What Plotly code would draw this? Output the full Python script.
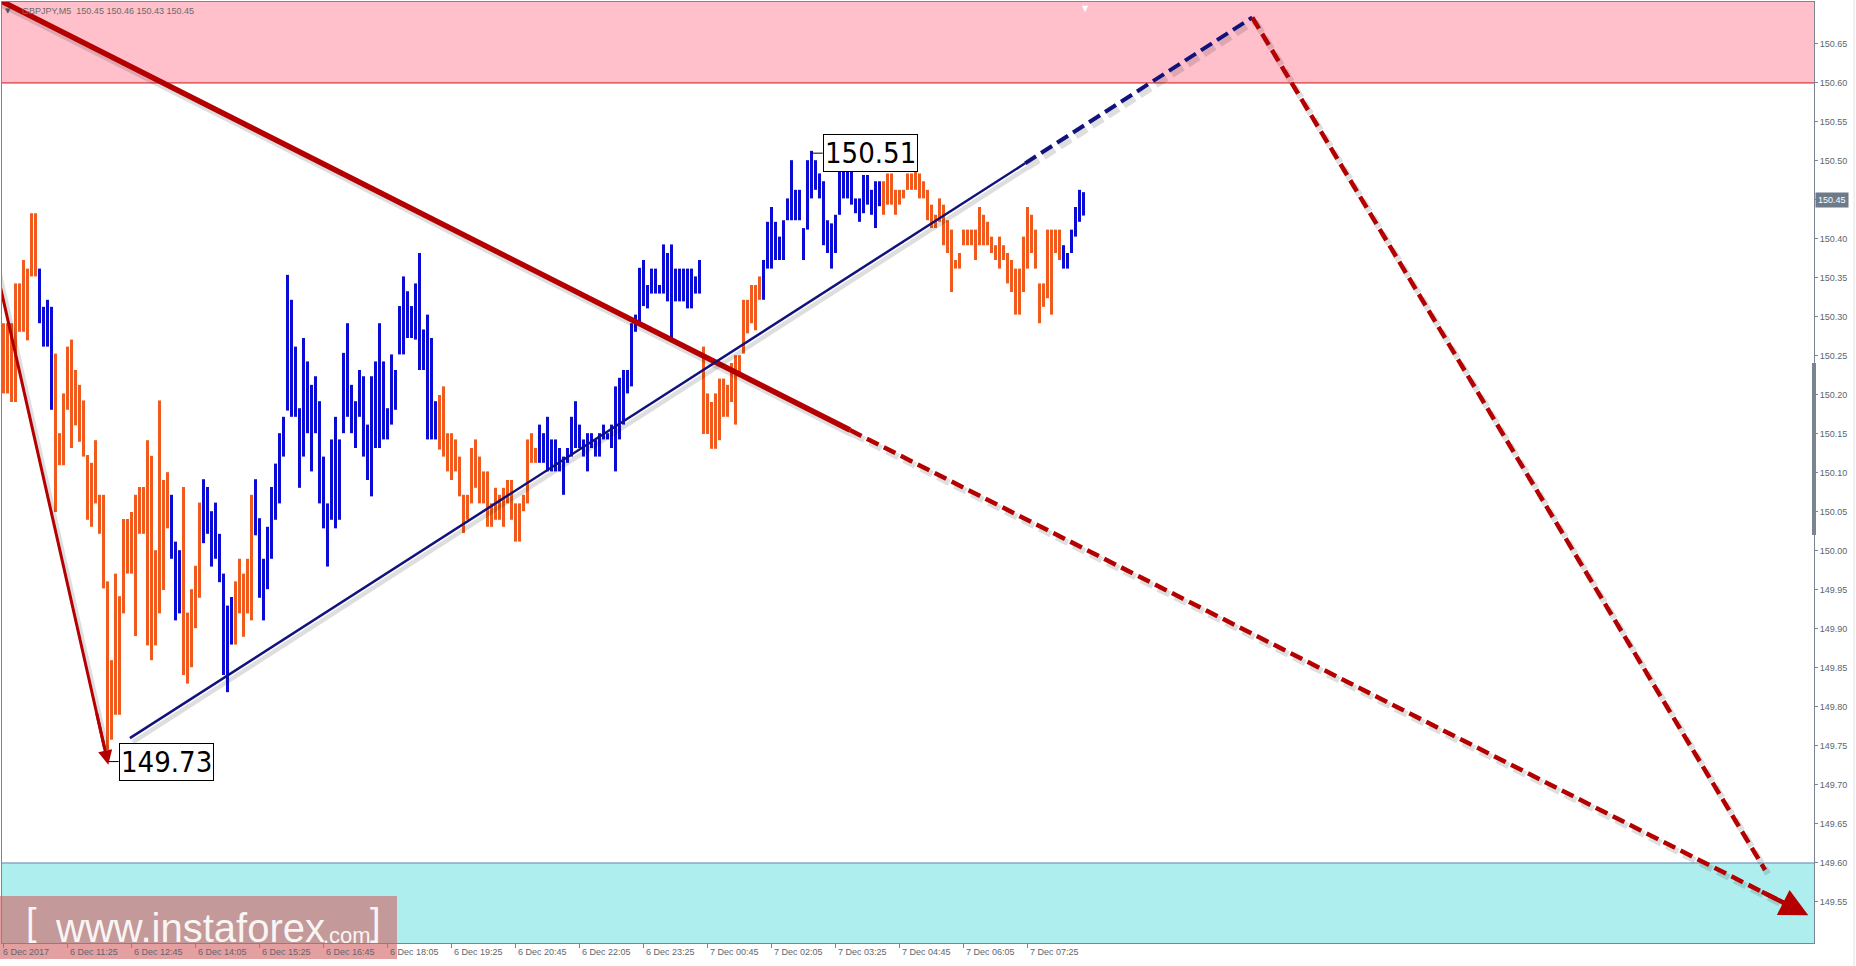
import plotly.graph_objects as go

# ---------------- data ----------------
symbol = "GBPJPY,M5"
last_ohlc = [150.45, 150.46, 150.43, 150.45]

time_labels = ["6 Dec 2017", "6 Dec 11:25", "6 Dec 12:45", "6 Dec 14:05", "6 Dec 15:25",
               "6 Dec 16:45", "6 Dec 18:05", "6 Dec 19:25", "6 Dec 20:45", "6 Dec 22:05",
               "6 Dec 23:25", "7 Dec 00:45", "7 Dec 02:05", "7 Dec 03:25", "7 Dec 04:45",
               "7 Dec 06:05", "7 Dec 07:25"]
bars_per_label = 16

highs = [
    150.292, 150.292, 150.292, 150.343, 150.343, 150.373, 150.362, 150.433, 150.433, 150.362,
    150.313, 150.322, 150.313, 150.253, 150.151, 150.202, 150.262, 150.271, 150.232, 150.213,
    150.193, 150.123, 150.113, 150.142, 150.072, 150.072, 149.961, 149.860, 149.971, 149.942,
    150.041, 150.041, 150.050, 150.072, 150.082, 150.082, 150.142, 150.122, 150.001, 150.193,
    150.091, 150.101, 150.072, 150.012, 150.001, 150.082, 149.921, 149.951, 149.981, 150.062,
    150.092, 150.082, 150.051, 150.062, 150.022, 149.971, 149.930, 149.941, 149.961, 149.990,
    149.971, 149.990, 150.072, 150.092, 150.042, 149.990, 150.031, 150.082, 150.112, 150.151,
    150.172, 150.354, 150.322, 150.262, 150.183, 150.273, 150.243, 150.213, 150.224, 150.192,
    150.121, 150.061, 150.143, 150.172, 150.143, 150.254, 150.292, 150.213, 150.192, 150.232,
    150.224, 150.162, 150.224, 150.243, 150.292, 150.243, 150.183, 150.252, 150.232, 150.314,
    150.352, 150.333, 150.314, 150.343, 150.382, 150.284, 150.303, 150.273, 150.192, 150.200,
    150.211, 150.151, 150.151, 150.143, 150.121, 150.072, 150.072, 150.132, 150.143, 150.121,
    150.102, 150.102, 150.061, 150.081, 150.072, 150.081, 150.091, 150.091, 150.061, 150.061,
    150.072, 150.143, 150.151, 150.132, 150.162, 150.151, 150.172, 150.143, 150.143, 150.132,
    150.121, 150.132, 150.172, 150.192, 150.162, 150.143, 150.151, 150.151, 150.143, 150.151,
    150.162, 150.151, 150.162, 150.211, 150.222, 150.232, 150.232, 150.292, 150.303, 150.363,
    150.373, 150.341, 150.362, 150.362, 150.341, 150.393, 150.382, 150.393, 150.362, 150.362,
    150.362, 150.362, 150.362, 150.352, 150.373, 150.262, 150.202, 150.191, 150.202, 150.221,
    150.221, 150.213, 150.241, 150.251, 150.251, 150.322, 150.322, 150.341, 150.341, 150.352,
    150.373, 150.422, 150.441, 150.422, 150.403, 150.424, 150.452, 150.501, 150.463, 150.463,
    150.414, 150.501, 150.513, 150.501, 150.484, 150.474, 150.424, 150.420, 150.431, 150.493,
    150.493, 150.493, 150.493, 150.452, 150.452, 150.482, 150.482, 150.463, 150.474, 150.474,
    150.474, 150.484, 150.484, 150.463, 150.463, 150.463, 150.484, 150.484, 150.493, 150.484,
    150.474, 150.463, 150.444, 150.431, 150.452, 150.444, 150.424, 150.412, 150.373, 150.382,
    150.412, 150.412, 150.412, 150.412, 150.441, 150.431, 150.422, 150.403, 150.392, 150.403,
    150.392, 150.382, 150.373, 150.362, 150.362, 150.403, 150.441, 150.431, 150.412, 150.343,
    150.343, 150.412, 150.412, 150.412, 150.412, 150.392, 150.382, 150.412, 150.441, 150.463,
    150.460,
]

lows = [
    150.202, 150.202, 150.191, 150.191, 150.281, 150.281, 150.270, 150.352, 150.352, 150.292,
    150.262, 150.262, 150.181, 150.050, 150.110, 150.110, 150.181, 150.132, 150.161, 150.140,
    150.121, 150.040, 150.031, 150.061, 150.022, 149.952, 149.745, 149.758, 149.790, 149.790,
    149.920, 149.971, 149.971, 149.891, 150.022, 150.022, 149.879, 149.860, 149.879, 149.920,
    149.950, 150.029, 149.990, 149.911, 149.920, 149.841, 149.830, 149.851, 149.901, 149.940,
    150.010, 150.022, 149.980, 149.990, 149.960, 149.841, 149.819, 149.880, 149.880, 149.920,
    149.890, 149.920, 149.911, 150.020, 149.940, 149.911, 149.951, 149.990, 150.040, 150.061,
    150.121, 150.180, 150.172, 150.172, 150.081, 150.121, 150.151, 150.102, 150.151, 150.061,
    150.029, 149.980, 150.040, 150.029, 150.040, 150.151, 150.172, 150.151, 150.132, 150.172,
    150.121, 150.091, 150.070, 150.132, 150.132, 150.143, 150.143, 150.162, 150.181, 150.252,
    150.252, 150.273, 150.273, 150.271, 150.232, 150.232, 150.143, 150.143, 150.143, 150.130,
    150.121, 150.102, 150.091, 150.102, 150.070, 150.023, 150.040, 150.061, 150.081, 150.061,
    150.061, 150.031, 150.031, 150.040, 150.040, 150.031, 150.061, 150.040, 150.012, 150.012,
    150.051, 150.061, 150.113, 150.113, 150.113, 150.113, 150.102, 150.102, 150.102, 150.102,
    150.072, 150.113, 150.121, 150.132, 150.132, 150.121, 150.102, 150.132, 150.121, 150.121,
    150.143, 150.143, 150.132, 150.102, 150.143, 150.162, 150.202, 150.211, 150.281, 150.292,
    150.314, 150.311, 150.330, 150.330, 150.330, 150.330, 150.320, 150.270, 150.320, 150.320,
    150.320, 150.311, 150.311, 150.330, 150.330, 150.150, 150.150, 150.131, 150.131, 150.142,
    150.172, 150.172, 150.191, 150.162, 150.223, 150.253, 150.279, 150.292, 150.283, 150.322,
    150.322, 150.362, 150.362, 150.373, 150.373, 150.373, 150.424, 150.424, 150.424, 150.424,
    150.373, 150.412, 150.452, 150.463, 150.452, 150.392, 150.382, 150.362, 150.382, 150.431,
    150.452, 150.452, 150.444, 150.433, 150.422, 150.433, 150.444, 150.431, 150.414, 150.442,
    150.431, 150.444, 150.444, 150.431, 150.444, 150.452, 150.463, 150.463, 150.463, 150.452,
    150.452, 150.424, 150.414, 150.414, 150.422, 150.392, 150.382, 150.332, 150.362, 150.362,
    150.392, 150.392, 150.392, 150.373, 150.392, 150.392, 150.392, 150.382, 150.373, 150.362,
    150.373, 150.343, 150.332, 150.303, 150.303, 150.332, 150.362, 150.382, 150.362, 150.292,
    150.313, 150.324, 150.303, 150.382, 150.373, 150.362, 150.362, 150.382, 150.403, 150.422,
    150.430,
]

# u = rising bar (blue), d = falling bar (orange)
bar_dir = ("ddddddddd" "uuuu"
           "dddddddddd" "dddddddddd" "ddddddddd"
           "uuu" "ddddd" "uuuuuuuu" "ddddd"
           "uuuuuuuuuu" "uuuuuuuuuu" "uuuuuuuuuu" "uuuuuuuuuu" "uuuuuu"
           "dddddddddd" "dddddddddd" "ddddd"
           "uuuuuuuuuu" "uuuuuuuuuu" "uuuuuuuuuu" "uuuuuuuuuu" "u"
           "dddddddddd" "ddddd"
           "uuuuuuuuuu" "uuuuuuuuuu" "uuuuuuuuuu"
           "dddddddddd" "dddddddddd" "dddddddddd" "dddddddddd" "ddddd"
           "uuuuuu")

price_ticks = [149.55, 149.60, 149.65, 149.70, 149.75, 149.80, 149.85, 149.90, 149.95,
               150.00, 150.05, 150.10, 150.15, 150.20, 150.25, 150.30, 150.35, 150.40,
               150.45, 150.50, 150.55, 150.60, 150.65]

resistance_level = 150.60
support_level = 149.60
y_range = [149.4974, 150.7038]
x_range = [-0.375, 452.625]
axis_marker_range = [150.0205, 150.241]

wave_low, wave_low_bar = 149.73, 26
wave_high, wave_high_bar = 150.51, 202
label_offset_bars = 2.8

# analysis lines: (bar index, price)
trend_x = [-6.0, 211.6, 451.2]
trend_y = [150.719, 150.155, 149.533]
drop_x = [-3.4, 26.2]
drop_y = [150.398, 149.726]
rise_x = [31.6, 255.4, 312.2]
rise_y = [149.760, 150.497, 150.684]
target_x = [312.2, 440.4]
target_y = [150.684, 149.591]

# ---------------- styles ----------------
BLUE = "#0b0bd6"
ORANGE = "#f05a1c"
RED = "#b40000"
NAVY = "#12127e"
FRAME = "#7a8591"
TXT = "#5c6670"
SMALL_FONT = "Liberation Sans, Arial, sans-serif"

if len(bar_dir) != len(highs) or len(lows) != len(highs):
    raise ValueError(f"length mismatch {len(bar_dir)} {len(highs)} {len(lows)}")

fig = go.Figure()

# bars
for flag, color in (("u", BLUE), ("d", ORANGE)):
    xs, ys = [], []
    for i, (h, l, d) in enumerate(zip(highs, lows, bar_dir)):
        if d == flag:
            xs += [i, i, None]
            ys += [l, h, None]
    fig.add_trace(go.Scatter(x=xs, y=ys, mode="lines", line=dict(color=color, width=3),
                             hoverinfo="skip", showlegend=False))

SHX, SHY = 0.75, -0.0051


def add_line(xs, ys, color, width, dash="solid", shadow=True, end_frac=1.0):
    xs = list(xs)
    ys = list(ys)
    if end_frac < 1.0:
        xs[-1] = xs[-2] + (xs[-1] - xs[-2]) * end_frac
        ys[-1] = ys[-2] + (ys[-1] - ys[-2]) * end_frac
    if shadow:
        fig.add_trace(go.Scatter(x=[v + SHX for v in xs], y=[v + SHY for v in ys], mode="lines",
                                 line=dict(color="rgba(0,0,0,0.13)", width=width + 2, dash=dash),
                                 hoverinfo="skip", showlegend=False))
    fig.add_trace(go.Scatter(x=xs, y=ys, mode="lines", line=dict(color=color, width=width, dash=dash),
                             hoverinfo="skip", showlegend=False))


DASH = "13px,6px"
add_line(trend_x[:2], trend_y[:2], RED, 5.5)
add_line(trend_x[1:], trend_y[1:], RED, 4.5, DASH, end_frac=0.975)
add_line(drop_x, drop_y, RED, 3, end_frac=0.97)
add_line(rise_x[:2], rise_y[:2], NAVY, 2.5)
add_line(rise_x[1:], rise_y[1:], NAVY, 4, DASH)
add_line(target_x, target_y, RED, 4.5, DASH)


def arrow_head(xa, ya, xb, yb, width, size, color, tail_frac):
    # head with its tip at (xb, yb), pointing away from (xa, ya)
    fig.add_annotation(x=xb, y=yb, ax=xa + (xb - xa) * tail_frac, ay=ya + (yb - ya) * tail_frac,
                       xref="x", yref="y", axref="x", ayref="y", text="", showarrow=True,
                       arrowhead=2, arrowsize=size, arrowwidth=width, arrowcolor=color)


arrow_head(trend_x[1], trend_y[1], trend_x[2], trend_y[2], 4.5, 1.25, RED, 0.95)
arrow_head(drop_x[0], drop_y[0], drop_x[1], drop_y[1], 3, 0.95, RED, 0.9)

# wave labels with leader lines
for val, bar in ((wave_low, wave_low_bar), (wave_high, wave_high_bar)):
    fig.add_trace(go.Scatter(x=[bar, bar + label_offset_bars], y=[val, val], mode="lines",
                             line=dict(color="black", width=1), hoverinfo="skip", showlegend=False))
    fig.add_annotation(x=bar + label_offset_bars, y=val, xref="x", yref="y", text=f"{val:.2f}",
                       showarrow=False, xanchor="left", yanchor="middle",
                       font=dict(family="DejaVu Sans Condensed, DejaVu Sans, sans-serif", size=29, color="black"),
                       bgcolor="white", bordercolor="black", borderwidth=1, borderpad=1)

# zones
fig.add_shape(type="rect", xref="paper", yref="y", x0=0, x1=1, y0=resistance_level, y1=y_range[1],
              fillcolor="#ffc0cb", line_width=0, layer="below")
fig.add_shape(type="line", xref="paper", yref="y", x0=0, x1=1, y0=resistance_level, y1=resistance_level,
              line=dict(color="#d01515", width=1), layer="below")
fig.add_shape(type="rect", xref="paper", yref="y", x0=0, x1=1, y0=y_range[0], y1=support_level,
              fillcolor="#afeeee", line_width=0, layer="below")
fig.add_shape(type="line", xref="paper", yref="y", x0=0, x1=1, y0=support_level, y1=support_level,
              line=dict(color="#5a86b4", width=1), layer="below")

# axis marker segment on the price scale
fig.add_shape(type="line", xref="paper", yref="y", x0=1, x1=1, y0=axis_marker_range[0], y1=axis_marker_range[1],
              line=dict(color=FRAME, width=4), layer="above")
# window edge line
fig.add_shape(type="line", xref="paper", yref="paper", x0=1.0221, x1=1.0221, y0=-0.03, y1=1.01,
              line=dict(color="#e2e2e2", width=1), layer="above")

# time labels
for k, lab in enumerate(time_labels):
    fig.add_annotation(x=k * bars_per_label, y=-0.0096, xref="x", yref="paper", text=lab,
                       showarrow=False, xanchor="left", yanchor="middle", xshift=(-3 if k == 0 else 0),
                       font=dict(family=SMALL_FONT, size=9, color=TXT))

# watermark
fig.add_shape(type="rect", xref="paper", yref="paper", x0=-0.0011, x1=0.218, y0=-0.017, y1=0.05,
              fillcolor="rgba(210,97,97,0.6)", line_width=0, layer="above")
WM = "rgba(255,255,255,0.92)"
fig.add_annotation(x=0.0121, y=0.022, xref="paper", yref="paper", text="[", showarrow=False,
                   xanchor="left", yanchor="middle", font=dict(family=SMALL_FONT, size=38, color=WM))
fig.add_annotation(x=0.0282, y=0.016, xref="paper", yref="paper", text="www.instaforex", showarrow=False,
                   xanchor="left", yanchor="middle", font=dict(family=SMALL_FONT, size=40, color=WM))
fig.add_annotation(x=0.1760, y=0.008, xref="paper", yref="paper", text=".com", showarrow=False,
                   xanchor="left", yanchor="middle", font=dict(family=SMALL_FONT, size=22, color=WM))
fig.add_annotation(x=0.2020, y=0.022, xref="paper", yref="paper", text="]", showarrow=False,
                   xanchor="left", yanchor="middle", font=dict(family=SMALL_FONT, size=38, color=WM))

# header
fig.add_annotation(x=0.0099, y=0.9907, xref="paper", yref="paper",
                   text=symbol + "\u00a0\u00a0" + " ".join(f"{v:.2f}" for v in last_ohlc),
                   showarrow=False, xanchor="left", yanchor="middle",
                   font=dict(family=SMALL_FONT, size=9, color="#6a6a6a"))
fig.add_annotation(x=0.0033, y=0.9907, xref="paper", yref="paper", text="\u25bc", showarrow=False,
                   xanchor="center", yanchor="middle", font=dict(family="DejaVu Sans", size=7, color="#555"))
# chart shift marker
fig.add_annotation(x=len(highs) - 0.6, y=1.0, xref="x", yref="paper", text="\u25bc", showarrow=False,
                   xanchor="center", yanchor="top", font=dict(family="DejaVu Sans", size=8, color="white"))

# current price marker
fig.add_annotation(x=1, y=last_ohlc[3], xref="paper", yref="y", text=f"{last_ohlc[3]:.2f}",
                   showarrow=False, xanchor="left", yanchor="middle", xshift=1,
                   font=dict(family=SMALL_FONT, size=9, color="white"), bgcolor="#6c7a89", borderpad=2)

fig.update_layout(
    width=1856, height=966,
    margin=dict(l=2, r=42, t=2, b=23),
    paper_bgcolor="white", plot_bgcolor="white",
    showlegend=False,
    xaxis=dict(range=x_range, showgrid=False, zeroline=False, showline=True, mirror=True,
               linecolor=FRAME, linewidth=1, ticks="outside", ticklen=4, tickcolor=FRAME,
               tickvals=[k * bars_per_label for k in range(len(time_labels))],
               showticklabels=False, fixedrange=True),
    yaxis=dict(range=y_range, side="right", showgrid=False, zeroline=False, showline=True, mirror=True,
               linecolor=FRAME, linewidth=1, ticks="outside", ticklen=3, tickcolor=FRAME,
               tickvals=price_ticks, ticktext=[f"{v:.2f}" for v in price_ticks],
               tickfont=dict(family=SMALL_FONT, size=9, color=TXT), fixedrange=True),
)

fig.write_html("out.html", config={"displayModeBar": False},
               post_script="document.body.style.margin='0';")
